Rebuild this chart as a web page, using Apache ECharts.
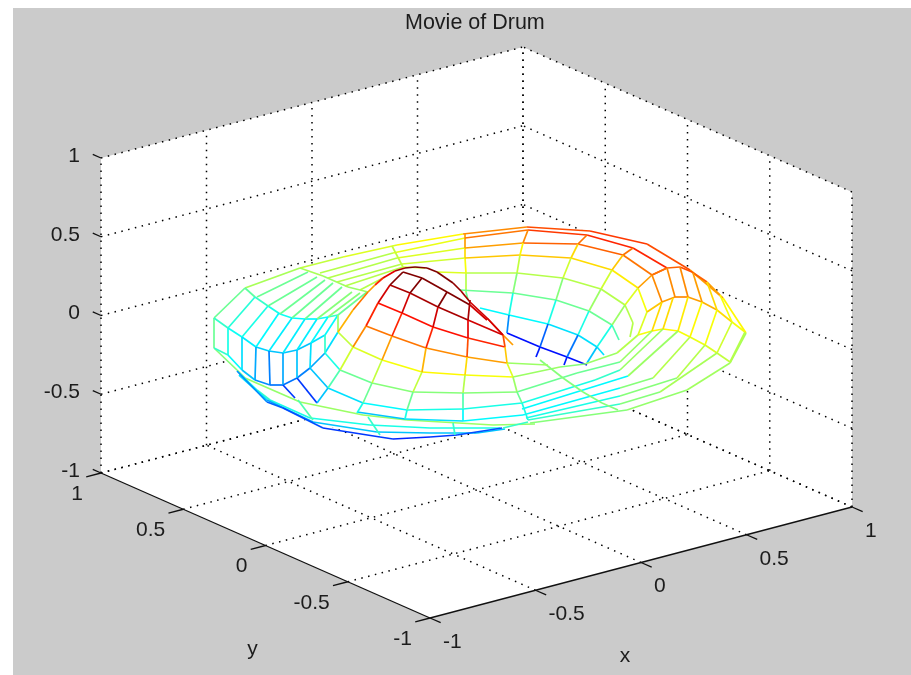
<!DOCTYPE html>
<html><head><meta charset="utf-8">
<style>html,body{margin:0;padding:0;background:#fff}#c{width:911px;height:675px;filter:blur(0.4px)}</style>
<script src="https://cdn.jsdelivr.net/npm/echarts@6/dist/echarts.min.js"></script>
</head><body><div id="c"></div>
<script>
// Axis ticks and labels
const tickValues = [-1, -0.5, 0, 0.5, 1];
const tickLabels = ['-1', '-0.5', '0', '0.5', '1'];
const titleText = 'Movie of Drum';
const axisNames = ['x', 'y'];

// Surface readings in view-plane units: flat triples h, v, colour level (percent of the jet map)
const silhouette = [-266,15, -235,45, -180,65, -137,76, -83,88, -17,99, 47,106, 110,102, 167,89, 210,63, 243,35, 266,0, 250,-30, 207,-57, 147,-77, 50,-90, 23,-95, -10,-100, -50,-104, -87,-106, -103,-104, -137,-97, -167,-90, -203,-75, -217,-65, -243,-37, -266,-15];

const rimLines = [
 [-266,15,42, -235,45,48, -180,65,52, -137,76,56, -83,88,62, -17,99,74, 47,106,80, 110,102,82, 167,89,80, 210,63,72, 243,35,62, 266,0,52],
 [266,0,48, 250,-30,47, 207,-57,45, 147,-77,44, 50,-90,44],
 [-266,-15,44, -243,-37,44, -235,-45,45, -180,-69,46, -117,-82,46, -73,-87,46, 13,-92,45, 55,-91,45],
 [-266,15,42, -266,-15,42],
 [-241,-40,36, -223,-57,38, -210,-67,36, -170,-85,36, -110,-92,36, -50,-95,36, 20,-95,34],
 [-241,-42,32, -213,-67,28, -167,-89,30, -103,-99,30, -50,-100,30, -3,-100,30, 25,-96,30],
 [-243,-38,26, -213,-69,22, -197,-75,20, -157,-95,18, -100,-104,18, -87,-106,16, -50,-104,18, -23,-102,20, 22,-95,28],
 [23,-95,38, 48,-89,38],
 [-182,-67,40, -167,-87,40],
 [-112,-84,38, -100,-102,38],
 [-27,-90,38, -25,-102,38]
];

const leftTube = [
 [-266,15,38, -252,5,35, -238,-4,33, -224,-14,31, -211,-18,30, -197,-20,30, -183,-17,30, -169,-10,32, -155,-2,34, -142,18,38],
 [-235,45,41, -225,36,38, -212,27,36, -200,19,35, -188,15,34, -175,14,34, -163,14,35, -152,16,38, -142,18,42, -113,41,50],
 [-225,36,37, -252,5,36],
 [-212,27,36, -238,-4,34],
 [-201,20,34, -224,-14,32],
 [-188,15,33, -211,-18,32],
 [-175,14,33, -197,-20,30],
 [-163,14,33, -183,-17,30],
 [-152,16,34, -169,-10,32],
 [-266,-15,38, -252,-22,34, -238,-37,30, -225,-47,26, -210,-52,24, -197,-52,24, -183,-45,25, -170,-35,28, -155,-20,32, -142,1,40],
 [-252,5,36, -252,-22,36],
 [-238,-4,32, -238,-37,32],
 [-224,-14,28, -225,-47,28],
 [-211,-18,25, -210,-52,25],
 [-197,-20,28, -197,-52,28],
 [-183,-17,30, -183,-45,30],
 [-169,-10,32, -170,-35,32],
 [-155,-2,38, -155,-20,38],
 [-142,18,46, -142,1,46],
 [-197,-52,18, -185,-65,18]
];

const backBand = [
 [-180,65,48, -157,57,46, -132,46,46, -112,41,48],
 [-223,36,42, -172,61,46],
 [-212,27,42, -163,56,46],
 [-200,19,42, -155,53,46],
 [-188,15,42, -147,50,46],
 [-175,14,42, -138,46,46],
 [-163,14,44, -128,41,46],
 [-152,16,44, -120,40,46],
 [-160,60,50, -87,80,58, -15,95,72],
 [-152,55,50, -83,75,56, -15,85,68],
 [-143,51,50, -78,69,54, -15,75,62],
 [-135,47,50, -77,66,54, -55,65,58],
 [-120,43,50, -95,56,52],
 [-88,87,52, -77,66,52],
 [-15,99,72, -15,85,66, -15,75,60, -14,60,50, -14,41,42, -12,33,38]
];

const dipRings = [
 [-15,95,76, 48,103,82, 107,98,84, 153,85,84, 187,65,82],
 [-15,85,72, 43,90,78, 98,89,78, 143,78,76, 172,58,72],
 [-15,75,68, 40,78,68, 91,75,66, 132,63,64, 158,45,60, 167,21,58],
 [-43,61,56, -13,60,50, 37,60,50, 83,55,50, 121,44,50, 145,28,50, 153,10,50, 150,-4,46],
 [-20,43,42, 33,40,42, 76,33,42, 109,22,42, 132,8,40, 139,-7,38],
 [0,25,34, 29,18,34, 68,9,32, 98,-2,32, 117,-14,32, 124,-22,34],
 [27,0,14, 60,-14,14, 87,-24,14, 107,-32,14]
];

const dipSpokes = [
 [48,103,74, 43,90,62, 40,78,52, 37,60,44, 33,40,36, 29,18,26, 27,0,18],
 [107,98,76, 98,89,66, 91,75,54, 83,55,44, 76,33,36, 68,9,22, 60,-14,15, 56,-24,15],
 [153,85,76, 143,78,68, 132,63,54, 121,44,46, 109,22,36, 98,-2,24, 87,-24,15, 84,-32,15],
 [187,65,80, 172,58,72, 158,45,56, 145,28,46, 132,8,36, 117,-14,30, 107,-30,30]
];

const rightTube = [
 [172,58,76, 187,65,78, 200,66,80, 212,61,78, 227,51,72, 240,38,66],
 [167,21,68, 182,31,72, 195,36,74, 208,36,72, 222,31,70, 237,23,66, 252,11,60, 265,1,54],
 [158,-2,60, 172,2,62, 183,4,62, 198,2,60, 210,-4,58, 225,-12,56, 237,-20,52, 250,-29,48],
 [172,58,74, 182,31,74], [187,65,74, 195,36,74], [200,66,74, 208,36,74],
 [213,60,72, 222,31,72], [227,51,66, 237,23,66], [240,38,60, 252,11,60],
 [167,21,56, 158,-2,56], [182,31,66, 172,2,66], [193,35,66, 183,4,66],
 [208,36,64, 198,2,64], [222,31,62, 210,-4,62], [237,23,60, 225,-12,60],
 [252,11,54, 237,-20,54], [265,1,50, 250,-29,50]
];

const rightBand = [
 [33,-44,46, 80,-34,44, 105,-31,46, 137,-20,50, 158,-2,50],
 [37,-59,42, 97,-40,42, 140,-29,46, 172,2,46],
 [42,-70,36, 115,-47,38, 140,-37,46, 183,4,46],
 [42,-76,34, 148,-43,46, 198,2,46],
 [43,-82,34, 140,-55,44, 173,-45,50, 210,-4,50],
 [46,-85,36, 140,-63,44, 197,-45,50, 225,-12,50],
 [48,-87,38, 140,-71,44, 180,-59,48, 237,-20,48],
 [60,-27,44, 83,-45,44, 103,-59,44, 122,-70,44, 138,-77,44],
 [27,-30,46, 68,-32,46]
];

const peakRows = [
 [-112,41,72, -105,48,84, -97,55,90, -85,62,96, -75,65,100, -65,66,100, -53,65,100, -43,61,100, -27,50,98, -19,42,96, -10,31,92, 7,15,84, 23,-2,72, 33,-12,66],
 [-77,61,100, -58,55,100, -33,41,100, -10,28,92, 7,13,88],
 [-90,48,96, -70,40,96, -42,26,96, -12,13,92, 23,-2,84],
 [-102,30,86, -78,20,86, -47,6,86, -12,-5,84, 25,-14,78],
 [-114,7,76, -88,-3,76, -54,-15,74, -13,-24,72, 27,-30,62],
 [-142,1,52, -127,-14,56, -98,-27,60, -58,-39,62, -15,-42,60, 33,-44,46],
 [-155,-20,36, -140,-37,42, -108,-50,44, -67,-59,44, -17,-60,44, 37,-59,42],
 [-170,-35,30, -152,-55,32, -117,-70,34, -73,-77,36, -17,-76,36, 42,-70,36],
 [-183,-45,18, -163,-70,18],
 [-123,-79,30, -75,-86,32, -17,-88,34, 43,-82,34]
];

const peakSpokes = [
 [-112,41,76, -127,23,70, -142,1,48],
 [-77,61,100, -90,48,92, -102,30,84, -114,7,74, -127,-14,54, -140,-37,40, -152,-55,30, -163,-70,18],
 [-58,55,100, -70,40,92, -78,20,84, -88,-3,72, -98,-27,52, -108,-50,42, -117,-70,36, -123,-80,30],
 [-33,41,100, -42,26,92, -47,6,84, -54,-15,70, -58,-39,52, -67,-59,42, -73,-77,36, -75,-86,30],
 [-10,33,96, -12,13,90, -12,-5,80, -13,-24,66, -15,-42,50, -17,-60,40, -17,-76,34, -17,-88,34],
 [7,15,92, 23,-2,80, 25,-14,68, 27,-30,56, 33,-44,46, 37,-59,42, 42,-70,36, 48,-87,38]
];

// Orthographic view of the data box in the same view-plane units
const project = (x, y, z) => [211 * x - 164.5 * y - 3.5, 55.5 * x + 72.5 * y + 157.5 * z + 0.5];

function jet(level) {
  const lifted = level + 7 * Math.max(0, 1 - Math.abs(level - 45) / 20);
  const t = lifted / 100;
  const ch = (c) => Math.round(255 * Math.max(0, Math.min(1, 1.5 - Math.abs(4 * t - c))));
  return 'rgb(' + ch(3) + ',' + ch(2) + ',' + ch(1) + ')';
}

// Build segments for the mesh
const meshSegments = [];
[rimLines, leftTube, backBand, dipRings, dipSpokes, rightTube, rightBand, peakRows, peakSpokes].forEach(group => {
  group.forEach(line => {
    for (let i = 0; i + 5 < line.length; i += 3) {
      meshSegments.push([line[i], line[i + 1], line[i + 3], line[i + 4], line[i + 2]]);
    }
  });
});

// Dotted grid on the two back walls and the floor, solid axes and ticks
const gridSegments = [];
const addSeg = (list, a, b) => { const p = project(...a), q = project(...b); list.push([p[0], p[1], q[0], q[1]]); };
tickValues.forEach(t => {
  addSeg(gridSegments, [t, 1, -1], [t, 1, 1]);
  addSeg(gridSegments, [1, t, -1], [1, t, 1]);
  addSeg(gridSegments, [-1, 1, t], [1, 1, t]);
  addSeg(gridSegments, [1, -1, t], [1, 1, t]);
  if (t > -1) addSeg(gridSegments, [t, -1, -1], [t, 1, -1]);
  if (t > -1) addSeg(gridSegments, [-1, t, -1], [1, t, -1]);
});
const axisSegments = [];
addSeg(axisSegments, [-1, -1, -1], [1, -1, -1]);
addSeg(axisSegments, [-1, -1, -1], [-1, 1, -1]);
tickValues.forEach(t => {
  addSeg(axisSegments, [t, -1, -1], [t, -1.065, -1]);
  addSeg(axisSegments, [-1, t, -1], [-1.07, t, -1]);
  addSeg(axisSegments, [-1, 1, t], [-1, 1.05, t]);
});

const wallCorners = [[-1,1,-1],[-1,1,1],[1,1,1],[1,-1,1],[1,-1,-1],[-1,-1,-1]].map(c => project(...c));
const silhouettePoints = [];
for (let i = 0; i < silhouette.length; i += 2) silhouettePoints.push([silhouette[i], silhouette[i + 1]]);

const textRows = [];
tickValues.forEach((t, i) => {
  const px = project(t, -1, -1), py = project(-1, t, -1), pz = project(-1, 1, t);
  textRows.push([px[0], px[1], tickLabels[i], 'left', 13, 24]);
  textRows.push([py[0], py[1], tickLabels[i], 'right', -18, 21]);
  textRows.push([pz[0], pz[1], tickLabels[i], 'right', -21, -2]);
});
const xName = project(0, -1, -1), yName = project(-1, 0, -1);
textRows.push([xName[0], xName[1], axisNames[0], 'center', -16, 94]);
textRows.push([yName[0], yName[1], axisNames[1], 'center', -13, 104]);

const polygonRender = (pts, fill) => (params, api) => ({
  type: 'polygon', silent: true,
  shape: { points: pts.map(p => api.coord(p)) },
  style: { fill: fill, stroke: null }
});
const lineRender = (stroke, width, dash) => (params, api) => {
  const a = api.coord([api.value(0), api.value(1)]), b = api.coord([api.value(2), api.value(3)]);
  return { type: 'line', silent: true, shape: { x1: a[0], y1: a[1], x2: b[0], y2: b[1] },
    style: { stroke: stroke, lineWidth: width, lineDash: dash || null, fill: null } };
};
const base = { type: 'custom', coordinateSystem: 'cartesian2d', clip: false, silent: true, animation: false };

const chart = echarts.init(document.getElementById('c'), null, { renderer: 'canvas' });
chart.setOption({
  animation: false,
  backgroundColor: '#ffffff',
  title: { text: titleText, left: 400, top: 7,
    textStyle: { fontFamily: 'Liberation Sans', fontSize: 21.5, fontWeight: 'normal', color: '#1c1c1c' } },
  graphic: [{ type: 'rect', z: -10, silent: true, shape: { x: 13, y: 8, width: 898, height: 667 }, style: { fill: '#cbcbcb' } }],
  grid: { left: 0, right: 0, top: 0, bottom: 0 },
  xAxis: { type: 'value', min: -480, max: 431, show: false },
  yAxis: { type: 'value', min: -342, max: 333, show: false },
  series: [
    { ...base, z: 1, data: [[0, 0]], renderItem: polygonRender(wallCorners, '#ffffff') },
    { ...base, z: 2, data: gridSegments, renderItem: lineRender('#000000', 1.5, [1.5, 5.5]) },
    { ...base, z: 3, data: [[0, 0]], renderItem: polygonRender(silhouettePoints, '#ffffff') },
    { ...base, z: 4, data: meshSegments, renderItem: (params, api) => {
        const a = api.coord([api.value(0), api.value(1)]), b = api.coord([api.value(2), api.value(3)]);
        return { type: 'line', silent: true, shape: { x1: a[0], y1: a[1], x2: b[0], y2: b[1] },
          style: { stroke: jet(api.value(4)), lineWidth: 1.7, fill: null } };
      } },
    { ...base, z: 5, data: axisSegments, renderItem: lineRender('#111111', 1.3) },
    { ...base, z: 6, data: textRows, encode: { x: 0, y: 1 }, dimensions: ['h', 'v', { name: 't', type: 'ordinal' }, { name: 'a', type: 'ordinal' }, 'dx', 'dy'],
      renderItem: (params, api) => {
        const row = textRows[params.dataIndex];
        const a = api.coord([row[0], row[1]]);
        return { type: 'text', silent: true, x: a[0] + row[4], y: a[1] + row[5],
          style: { text: row[2], textAlign: row[3], textVerticalAlign: 'middle',
            font: '21px "Liberation Sans"', fill: '#1c1c1c' } };
      } }
  ]
});
</script></body></html>
